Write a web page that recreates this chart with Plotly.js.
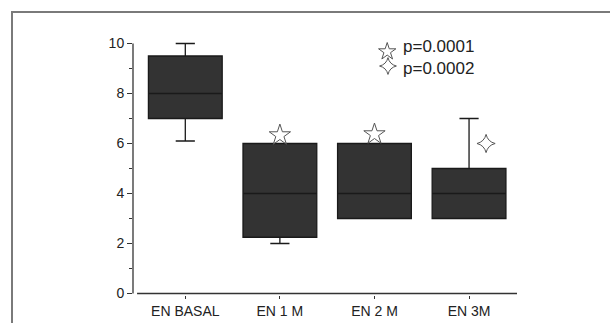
<!DOCTYPE html>
<html>
<head>
<meta charset="utf-8">
<script src="https://cdn.plot.ly/plotly-3.0.1.min.js"></script>
<style>
  html, body { margin: 0; padding: 0; background: #fff; }
  #wrap { position: relative; width: 610px; height: 323px; overflow: hidden; }
  #chart { position: absolute; left: 0; top: 0; width: 610px; height: 323px; }
  #frame { position: absolute; left: 11px; top: 11px; width: 700px; height: 400px;
           border-left: 2px solid #7a7a7a; border-top: 2px solid #7a7a7a; pointer-events: none; }
</style>
</head>
<body>
<div id="wrap">
  <div id="chart"></div>
  <div id="frame"></div>
</div>
<script>
// ---- data ----
const categories = ['EN BASAL', 'EN 1 M', 'EN 2 M', 'EN 3M'];
const positions = [0, 1, 2, 3];
const lowerWhisker = [6.1, 2.0, 3.0, 3.0];
const q1Values = [7.0, 2.25, 3.0, 3.0];
const medianValues = [8.0, 4.0, 4.0, 4.0];
const q3Values = [9.5, 6.0, 6.0, 5.0];
const upperWhisker = [10.0, 6.0, 6.0, 7.0];

// significance markers
const sig1X = [1, 2];
const sig1Y = [6.33, 6.37];
const sig2X = [3.18];
const sig2Y = [6.0];

const legendLabels = ['p=0.0001', 'p=0.0002'];
const yTicks = [0, 2, 4, 6, 8, 10];

const font = 'Liberation Sans, Arial, sans-serif';
const starColor = '#555';

const traces = [
  {
    type: 'box',
    x: positions,
    q1: q1Values,
    median: medianValues,
    q3: q3Values,
    lowerfence: lowerWhisker,
    upperfence: upperWhisker,
    width: 0.78,
    whiskerwidth: 0.26,
    fillcolor: '#333333',
    line: { color: '#1a1a1a', width: 1.3 },
    boxpoints: false,
    showlegend: false,
    hoverinfo: 'skip'
  },
  {
    type: 'scatter', mode: 'markers',
    x: sig1X, y: sig1Y,
    marker: { symbol: 'star-open', size: 16, color: starColor, line: { width: 1, color: starColor } },
    showlegend: false, hoverinfo: 'skip', cliponaxis: false
  },
  {
    type: 'scatter', mode: 'markers',
    x: sig2X, y: sig2Y,
    marker: { symbol: 'star-diamond-open', size: 13, color: starColor, line: { width: 1, color: starColor } },
    showlegend: false, hoverinfo: 'skip', cliponaxis: false
  },
  // legend keys (on an invisible overlay axis spanning the plot area)
  {
    type: 'scatter', mode: 'markers', xaxis: 'x2', yaxis: 'y2',
    x: [0.662], y: [0.962],
    marker: { symbol: 'star-open', size: 13, color: starColor, line: { width: 1, color: starColor } },
    showlegend: false, hoverinfo: 'skip', cliponaxis: false
  },
  {
    type: 'scatter', mode: 'markers', xaxis: 'x2', yaxis: 'y2',
    x: [0.664], y: [0.905],
    marker: { symbol: 'star-diamond-open', size: 12, color: starColor, line: { width: 1, color: starColor } },
    showlegend: false, hoverinfo: 'skip', cliponaxis: false
  }
];

const layout = {
  width: 610, height: 323,
  margin: { l: 133, r: 93, t: 42, b: 28, pad: 0 },
  paper_bgcolor: '#ffffff', plot_bgcolor: '#ffffff',
  font: { family: font, size: 14, color: '#222' },
  showlegend: false,
  xaxis: {
    range: [-0.553, 3.507],
    tickvals: positions,
    ticktext: categories,
    ticks: 'outside', ticklen: 3, tickwidth: 1, tickcolor: '#333',
    showline: false, showgrid: false, zeroline: false,
    tickfont: { family: font, size: 14, color: '#222' },
    fixedrange: true
  },
  yaxis: {
    range: [-0.06, 10.06],
    tickvals: yTicks,
    ticks: 'outside', ticklen: 5, tickwidth: 1, tickcolor: '#333',
    minor: { dtick: 1, tick0: 0, ticks: 'outside', ticklen: 3, tickwidth: 1, tickcolor: '#333', showgrid: false },
    showline: false, showgrid: false, zeroline: false,
    tickfont: { family: font, size: 14, color: '#222' },
    fixedrange: true
  },
  xaxis2: { overlaying: 'x', anchor: 'y2', range: [0, 1], visible: false, fixedrange: true },
  yaxis2: { overlaying: 'y', anchor: 'x2', range: [0, 1], visible: false, fixedrange: true },
  shapes: [
    { type: 'line', xref: 'paper', yref: 'y', x0: 0, x1: 0, y0: 0, y1: 10,
      line: { color: '#333', width: 1.3 } },
    { type: 'line', xref: 'x', yref: 'y', x0: -0.51, x1: 3.507, y0: 0, y1: 0,
      line: { color: '#333', width: 1.3 } }
  ],
  annotations: [
    { xref: 'paper', yref: 'paper', x: 0.697, y: 0.937, xanchor: 'left', yanchor: 'middle',
      align: 'left',
      text: legendLabels.join('<br>'), showarrow: false,
      font: { family: font, size: 17, color: '#222' } }
  ]
};

Plotly.newPlot('chart', traces, layout, { staticPlot: true, displayModeBar: false });
</script>
</body>
</html>
